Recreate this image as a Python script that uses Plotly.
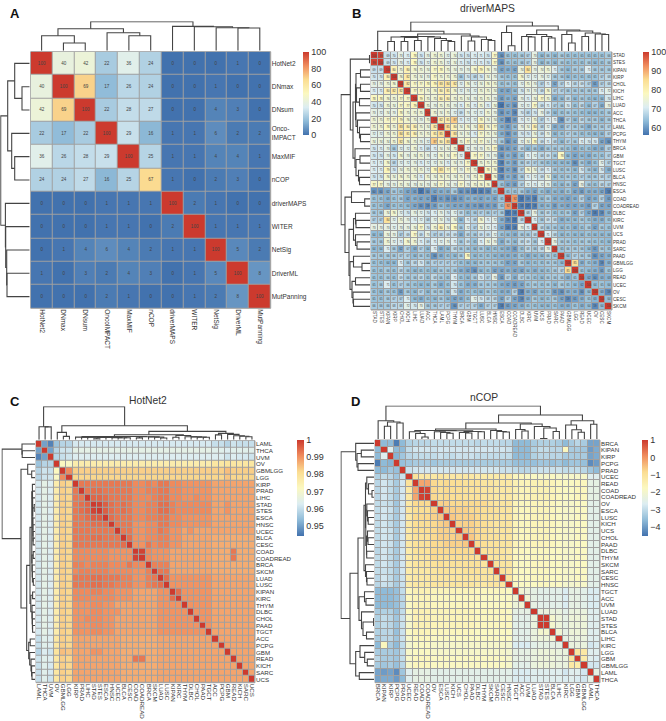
import plotly.graph_objects as go

W, H = 666, 721
FONT = "Liberation Sans"
RDYLBU = ["#4272AE", "#8FBBD8", "#DCEDF2", "#FBF8C0", "#FBDD92", "#F08D5E", "#CC3A2E"]

# ---------- Panel A ----------
A_ROWS = ["HotNet2", "DNmax", "DNsum", "Onco-<br>IMPACT", "MaxMIF", "nCOP", "driverMAPS", "WITER", "NetSig", "DriverML", "MutPanning"]
A_COLS = ["HotNet2", "DNmax", "DNsum", "OncoIMPACT", "MaxMIF", "nCOP", "driverMAPS", "WITER", "NetSig", "DriverML", "MutPanning"]
A_VALUES = [
    [100, 40, 42, 22, 36, 24, 0, 0, 0, 1, 0],
    [40, 100, 69, 17, 26, 24, 0, 0, 1, 0, 0],
    [42, 69, 100, 22, 28, 27, 0, 0, 4, 3, 0],
    [22, 17, 22, 100, 29, 16, 1, 1, 6, 2, 2],
    [36, 26, 28, 29, 100, 25, 1, 1, 4, 4, 1],
    [24, 24, 27, 16, 25, 67, 1, 0, 2, 3, 0],
    [0, 0, 0, 1, 1, 1, 100, 2, 1, 0, 0],
    [0, 0, 0, 1, 1, 0, 2, 100, 1, 1, 1],
    [0, 1, 4, 6, 4, 2, 1, 1, 100, 5, 2],
    [1, 0, 3, 2, 4, 3, 0, 1, 5, 100, 8],
    [0, 0, 0, 2, 1, 0, 0, 1, 2, 8, 100],
]
# trees: (merge height, left, right); an int is a leaf position
A_TREE = (29, (22, (15, 0, (7.7, 1, 2)), (18, 3, (15, 4, 5))),
          (24.3, 6, (24, 7, (23, 8, (22.7, 9, 10)))))

# ---------- Panel B ----------
B_LABELS = ["STAD", "STES", "KIPAN", "KIRP", "CHOL", "KICH", "LIHC", "LUAD", "ACC", "THCA", "LAML", "PCPG",
            "THYM", "BRCA", "GBM", "TGCT", "LUSC", "BLCA", "HNSC", "ESCA", "COAD", "COADREAD", "DLBC", "KIRC",
            "UVM", "UCS", "PRAD", "SARC", "PAAD", "GBMLGG", "LGG", "READ", "UCEC", "OV", "CESC", "SKCM"]
# upper triangle, each row starts just right of its diagonal cell (diagonal = 100)
B_UPPER = [
    [99,69,70,73,71,78,70,73,75,75,72,74,70,70,71,71,70,77,60,65,65,66,67,73,64,66,64,66,65,65,65,65,65,65,66],
    [69,70,73,71,78,70,72,75,75,72,74,71,70,71,71,70,77,60,65,65,66,67,73,64,66,64,66,65,65,65,66,64,65,66],
    [80,75,80,76,75,74,77,78,75,74,73,73,76,79,76,73,62,63,62,74,84,73,74,75,71,66,64,66,66,71,66,66,66],
    [76,82,75,74,73,77,75,75,75,66,70,68,70,74,73,66,65,65,76,72,72,73,72,66,66,64,65,65,65,65,67,68],
    [82,77,77,78,79,83,84,82,72,76,72,74,76,75,65,66,65,72,75,73,67,71,62,67,71,68,69,67,61,67,68],
    [77,77,75,76,80,81,76,72,73,72,75,75,74,62,62,64,70,73,73,69,76,67,67,66,66,66,66,66,71,72],
    [79,75,75,80,80,75,75,74,73,75,75,73,61,63,62,73,71,74,77,75,63,64,68,64,66,65,64,64,70],
    [75,73,75,75,73,71,75,71,75,71,74,57,62,60,72,72,77,69,71,67,66,70,65,68,64,67,63,73],
    [75,74,75,72,69,73,72,72,75,73,60,62,59,70,68,70,73,69,64,65,66,65,65,64,64,65,66],
    [82,81,87,71,72,72,78,74,74,62,58,61,71,72,75,67,71,71,60,67,64,68,66,66,64,66],
    [85,80,74,76,74,83,76,77,63,61,64,73,74,80,68,72,63,63,67,66,66,63,66,66,67],
    [83,74,74,71,77,75,74,63,60,63,70,70,74,69,73,64,65,67,66,65,65,64,64,67],
    [75,77,74,77,74,73,66,60,62,72,74,78,69,71,68,64,67,66,71,70,70,62,60],
    [72,73,73,75,77,60,61,62,68,64,66,63,66,66,66,65,63,65,65,63,63,67],
    [77,77,73,73,60,63,61,65,71,72,68,69,66,78,64,62,64,63,65,65,67],
    [75,75,75,58,63,61,66,68,67,66,65,64,64,64,60,66,63,65,72,67],
    [78,76,58,62,60,67,76,74,69,71,66,65,66,64,70,66,64,70,63],
    [76,59,63,61,66,71,72,69,74,64,65,66,65,67,66,66,68,67],
    [65,62,61,67,72,71,72,73,65,64,66,62,73,66,65,68,67],
    [65,65,66,63,62,65,63,64,63,65,62,61,63,63,62,58],
    [92,57,59,58,64,66,63,63,62,63,67,62,63,67,61],
    [58,57,58,63,64,61,63,62,62,63,61,67,62,62],
    [68,73,66,68,65,65,66,62,67,62,58,59,63],
    [71,66,69,68,63,64,64,66,65,63,63,65],
    [68,66,66,64,65,63,65,66,62,66,65],
    [71,68,64,65,64,64,65,64,64,64],
    [73,66,66,65,66,66,65,65,64],
    [65,66,66,66,64,61,66,65],
    [64,67,66,66,60,62,63],
    [85,63,65,63,59,63],
    [65,64,63,61,65],
    [62,60,63,63],
    [64,65,64],
    [63,59],
    [64],
    [],
]
B_TREE = (29,
          (19.7, (0.5, 0, 1),
           (17,
            (14.5, (14, (9.5, 2, 3), (13.5, (9.5, 4, 5), (10.5, 6, 7))),
             (14, 8, (12.5, 9, (10.5, 10, (9.5, 11, 12))))),
            (15, 13, (14, (10, 14, 15), (11.5, 16, (10.5, 17, 18)))))),
          (25, (18.5, 19, (5.3, 20, 21)),
           (21, (16.5, (14.5, 22, (14, 23, 24)), (14.5, 25, (13, 26, 27))),
            (20, (16.5, 28, (8, 29, 30)), (18, (14.5, 31, 32), (17, 33, (16.5, 34, 35)))))))

# ---------- Panel C ----------
C_LABELS = ["LAML", "THCA", "UVM", "OV", "GBMLGG", "LGG", "KIRP", "PRAD", "LIHC", "STAD", "STES", "ESCA",
            "HNSC", "UCEC", "BLCA", "CESC", "COAD", "COADREAD", "BRCA", "SKCM", "LUAD", "LUSC", "KIPAN", "KIRC",
            "THYM", "DLBC", "CHOL", "PAAD", "TGCT", "ACC", "PCPG", "GBM", "READ", "KICH", "SARC", "UCS"]
# upper triangle, thousandths (diagonal = 1000)
C_UPPER = [
    [950,946,955,958,958,
     962,962,962,962,962,962,962,962,962,962,962,962,962,962,962,962,962,962,962,962,962,962,962,
     960,960,958,961,960,960,960],
    [950,958,961,961,
     965,965,965,965,965,965,965,965,965,965,965,965,965,965,965,965,965,965,965,965,965,965,965,
     964,964,963,964,964,964,964],
    [958,960,961,
     963,963,963,963,963,963,963,963,963,963,963,963,963,963,963,963,963,963,963,963,963,963,963,
     963,963,961,963,962,962,961],
    [972,971,
     976,976,976,976,976,976,976,976,976,976,976,976,976,976,976,976,976,976,976,976,976,976,976,
     978,978,979,978,978,978,978],
    [991,
     983,983,983,983,983,983,983,983,983,983,983,983,983,983,983,983,983,983,983,983,983,983,983,
     983,983,985,983,983,983,983],
    [982,982,982,982,982,982,982,982,982,982,982,982,982,982,982,982,982,982,982,982,982,982,982,
     982,982,984,982,982,982,982],
    [993,993,993,993,993,993,993,993,993,991,991,992,991,993,993,991,991,990,990,990,990,990,988,988,988,988,988,988,988],
    [993,994,994,993,993,993,993,993,991,991,992,992,993,993,991,991,990,990,990,990,990,988,988,988,988,988,988,988],
    [995,995,994,993,993,993,993,991,991,991,992,993,993,991,991,990,990,991,990,990,988,988,988,988,988,988,988],
    [999,996,994,993,994,993,991,991,992,992,994,994,992,991,991,991,991,991,991,988,988,990,988,988,988,988],
    [996,994,993,994,993,991,991,992,992,994,994,992,991,991,991,991,991,991,988,988,990,988,988,988,988],
    [994,993,993,993,991,991,992,992,993,993,991,991,990,990,990,990,990,988,988,988,988,988,988,988],
    [993,993,993,990,990,991,991,993,993,991,991,990,990,990,990,990,988,988,988,988,988,988,988],
    [993,993,990,990,991,991,993,992,990,990,988,990,988,988,988,988,988,988,988,988,988,988],
    [994,990,990,991,991,992,992,990,990,988,988,988,988,988,987,987,987,987,987,987,987],
    [990,990,993,991,992,992,990,990,988,988,988,988,988,987,987,987,987,987,987,987],
    [999,991,990,990,990,988,988,988,988,988,988,988,987,987,987,993,987,987,987],
    [991,990,990,990,988,988,988,988,988,988,988,987,987,987,993,987,987,987],
    [992,992,992,988,988,988,988,988,988,988,987,987,987,987,987,987,987],
    [993,993,988,988,988,988,988,988,988,987,987,987,987,987,987,987],
    [994,990,990,990,990,990,990,990,988,988,988,988,988,988,988],
    [990,990,990,990,990,990,990,988,988,988,988,988,988,988],
    [994,990,990,990,990,990,988,988,988,988,988,988,988],
    [990,990,990,990,990,988,988,988,988,988,988,988],
    [990,990,990,990,988,988,988,988,988,988,988],
    [990,990,990,988,988,988,988,988,988,988],
    [990,990,988,988,988,988,988,988,988],
    [990,988,988,988,988,988,988,988],
    [988,988,988,988,988,988,988],
    [988,988,988,988,988,988],
    [988,988,988,988,988],
    [988,988,988,988],
    [988,988,988],
    [988,988],
    [988],
    [],
]
C_TREE = (33,
          (13, 0, (12.8, 1, 2)),
          (14,
           (7.3, 3, (3.3, 4, 5)),
           (8.3,
            (5,
             (3.2,
              (2.6, 6, (2.5, 7, (2.4, 8, (2.3, (0.8, 9, 10), (2.2, 11, (2.1, 12, (2, 13, (1.9, 14, 15)))))))),
              (3, (1.8, 16, 17), (2.8, 18, (2.6, 19, (1.7, 20, 21))))),
             (4.2, (2.4, 22, 23), (3, 24, (2.8, 25, (2.6, 26, (2.4, 27, 28)))))),
            (6.3, (4.8, 29, 30), (5.3, 31, (4, 32, (3.4, 33, (3, 34, 35))))))))

# ---------- Panel D ----------
D_LABELS = ["BRCA", "KIPAN", "KIRP", "PCPG", "PRAD", "UCEC", "READ", "COAD", "COADREAD", "OV", "ESCA", "LUSC",
            "KICH", "UCS", "CHOL", "PAAD", "DLBC", "THYM", "SKCM", "SARC", "CESC", "HNSC", "TGCT", "ACC",
            "UVM", "LUAD", "STAD", "STES", "BLCA", "LIHC", "KIRC", "LGG", "GBM", "GBMLGG", "LAML", "THCA"]
# upper triangle, tenths (diagonal = 10)
D_UPPER = [
    [-36,-36,-44,-36,-32,-31,-31,-31,-30,-30,-30,-30,-30,-30,-30,-31,-30,-30,-30,-31,-31,-36,-36,-36,-33,-32,-32,-32,-33,-36,-33,-31,-33,-39,-39],
    [-26,-36,-36,-30,-28,-28,-28,-29,-28,-28,-28,-28,-28,-28,-28,-28,-28,-29,-28,-29,-36,-36,-36,-32,-30,-30,-31,-31,-17,-33,-33,-34,-40,-38],
    [-37,-34,-31,-30,-30,-30,-30,-29,-30,-30,-29,-29,-29,-30,-30,-30,-30,-30,-30,-36,-36,-36,-32,-31,-31,-31,-31,-33,-33,-33,-33,-39,-38],
    [-35,-34,-33,-33,-33,-34,-33,-33,-33,-33,-33,-33,-33,-33,-33,-33,-33,-33,-35,-35,-35,-35,-34,-34,-35,-34,-36,-34,-34,-35,-42,-40],
    [-29,-28,-28,-28,-28,-28,-28,-28,-28,-28,-28,-28,-28,-28,-28,-29,-29,-30,-31,-31,-30,-29,-29,-29,-29,-30,-30,-30,-31,-34,-36],
    [-10,-12,-12,-12,-11,-12,-12,-12,-12,-12,-13,-13,-13,-13,-13,-13,-17,-17,-18,-18,-19,-19,-18,-19,-20,-19,-19,-19,-26,-26],
    [-2,-2,-8,-9,-8,-9,-9,-10,-10,-10,-11,-11,-12,-12,-12,-15,-16,-16,-15,-15,-15,-16,-17,-18,-18,-17,-17,-24,-24],
    [9,-8,-9,-8,-9,-9,-10,-10,-10,-11,-11,-12,-12,-12,-15,-16,-16,-15,-15,-15,-16,-17,-18,-18,-17,-17,-24,-24],
    [-8,-9,-8,-9,-9,-10,-10,-10,-11,-11,-12,-12,-12,-15,-16,-16,-15,-15,-15,-16,-17,-18,-18,-17,-17,-24,-24],
    [-7,-7,-8,-8,-8,-8,-8,-8,-10,-11,-11,-11,-16,-17,-17,-16,-16,-16,-17,-18,-19,-19,-18,-18,-25,-25],
    [-6,-7,-7,-7,-8,-8,-9,-9,-10,-11,-11,-16,-17,-17,-16,-16,-16,-17,-18,-19,-19,-18,-18,-25,-25],
    [-6,-7,-7,-7,-8,-9,-10,-10,-11,-11,-16,-17,-17,-16,-16,-16,-17,-18,-19,-19,-18,-18,-25,-25],
    [-7,-7,-7,-8,-9,-10,-11,-11,-11,-16,-17,-17,-16,-16,-16,-17,-18,-19,-19,-18,-18,-25,-25],
    [-6,-7,-8,-9,-10,-11,-11,-11,-16,-17,-17,-16,-16,-16,-17,-18,-19,-19,-18,-18,-25,-25],
    [-6,-8,-9,-10,-10,-11,-11,-16,-17,-17,-16,-16,-16,-17,-18,-19,-19,-18,-18,-25,-25],
    [-8,-9,-10,-10,-11,-11,-16,-17,-17,-16,-16,-16,-17,-18,-19,-19,-18,-18,-25,-25],
    [-10,-10,-10,-11,-12,-17,-17,-18,-17,-17,-17,-18,-18,-19,-19,-18,-18,-25,-25],
    [-11,-11,-11,-12,-17,-18,-18,-17,-17,-17,-18,-18,-19,-19,-18,-18,-25,-25],
    [-10,-11,-11,-17,-18,-18,-17,-17,-17,-18,-18,-19,-19,-18,-18,-25,-25],
    [-10,-11,-17,-18,-18,-17,-17,-17,-18,-18,-19,-19,-18,-18,-25,-25],
    [-11,-17,-18,-18,-17,-17,-17,-18,-18,-19,-19,-18,-18,-25,-25],
    [-18,-18,-18,-18,-17,-17,-18,-18,-20,-20,-19,-19,-25,-25],
    [-21,-22,-24,-25,-25,-25,-25,-27,-24,-24,-25,-27,-27],
    [-21,-24,-25,-25,-25,-25,-27,-24,-24,-25,-27,-27],
    [-24,-25,-25,-25,-25,-27,-24,-24,-25,-27,-27],
    [-23,-23,-23,-23,-25,-23,-23,-23,-26,-26],
    [10,-20,-22,-24,-22,-22,-22,-26,-26],
    [-20,-22,-24,-22,-22,-22,-26,-26],
    [-21,-24,-22,-22,-22,-26,-26],
    [-24,-23,-23,-23,-26,-26],
    [-23,-23,-23,-28,-27],
    [-11,-12,-26,-26],
    [-13,-26,-27],
    [-28,-28],
    [-24],
    [],
]
D_TREE = (33,
          (18.3, 0, (17, (12.7, 1, 2), (16, 3, 4))),
          (24,
           (16,
            (10,
             (8.5, (7.2, 5, (5.5, 6, (2, 7, 8))),
              (8.2, (7.2, 9, (6.5, 10, (5.8, 11, 12))), (7.5, (6.5, 13, (6, 14, 15)), (7.3, 16, 17)))),
             (8.5, 18, (7.5, 19, (7, 20, 21)))),
            (15, (9.5, 22, (8, 23, 24)), (12.5, 25, (11, (0.4, 26, 27), (7.5, 28, 29))))),
           (18.3, (14, 30, (9.3, 31, (6.7, 32, 33))), (14.7, 34, 35))))


def full(upper, diag, scale):
    n = len(upper)
    m = [[diag / scale] * n for _ in range(n)]
    for i, row in enumerate(upper):
        assert len(row) == n - i - 1, (i, len(row))
        for k, v in enumerate(row):
            m[i][i + 1 + k] = m[i + 1 + k][i] = v / scale
    return m


def tree_lines(node):
    xs, ys = [], []

    def walk(nd):
        if isinstance(nd, int):
            return float(nd), 0.0
        h, a, b = nd
        xa, ha = walk(a)
        xb, hb = walk(b)
        xs.extend([xa, xa, xb, xb, None])
        ys.extend([ha, h, h, hb, None])
        return (xa + xb) / 2, h

    walk(node)
    return xs, ys


fig = go.Figure()
layout = {}
shapes = []
axis_no = 0


def dom_x(a, b):
    return [a / W, b / W]


def dom_y(a, b):
    return [1 - b / H, 1 - a / H]


def next_axes():
    global axis_no
    axis_no += 1
    s = "" if axis_no == 1 else str(axis_no)
    return "x" + s, "y" + s, "xaxis" + s, "yaxis" + s


def add_panel(rows, cols, z, tree, box, cbar, zmin, zmax, ticks, ticktext, lab_size, text=None, gap=1):
    x0, x1, y0, y1 = box
    n = len(rows)
    xr, yr, xk, yk = next_axes()
    hm = dict(z=z, x=cols, y=rows, xaxis=xr, yaxis=yr, zmin=zmin, zmax=zmax, colorscale=RDYLBU,
              xgap=gap, ygap=gap, hoverinfo="skip",
              colorbar=dict(x=cbar[0] / W, xanchor="left", xpad=0, y=1 - cbar[1] / H, yanchor="top", ypad=0,
                            lenmode="pixels", len=cbar[2], thicknessmode="pixels", thickness=cbar[3],
                            outlinewidth=0, ticks="", tickmode="array", tickvals=ticks, ticktext=ticktext,
                            tickfont=dict(family=FONT, size=9, color="#333333")))
    if text:
        hm.update(texttemplate="%{z:.0f}", textfont=dict(family=FONT, size=text, color="#444444"))
    fig.add_trace(go.Heatmap(**hm))
    layout[xk] = dict(domain=dom_x(x0, x1), anchor=yr, range=[-0.5, n - 0.5], tickmode="linear", dtick=1,
                      tick0=0, ticks="", tickangle=90, showgrid=False, zeroline=False, showline=False,
                      tickfont=dict(family=FONT, size=lab_size, color="#333333"), automargin=False)
    layout[yk] = dict(domain=dom_y(y0, y1), anchor=xr, range=[n - 0.5, -0.5], tickmode="linear", dtick=1,
                      tick0=0, ticks="", side="right", showgrid=False, zeroline=False, showline=False,
                      tickfont=dict(family=FONT, size=lab_size, color="#333333"), automargin=False)
    shapes.append(dict(type="rect", xref=xr + " domain", yref=yr + " domain", x0=0, x1=1, y0=0, y1=1,
                       layer="below", fillcolor="#a0a0a0", line=dict(color="#a0a0a0", width=1)))
    tx, ty = tree_lines(tree)
    depth = tree[0]
    line = dict(color="#444444", width=1.1)
    pad = 0.5
    # top dendrogram
    xr2, yr2, xk2, yk2 = next_axes()
    fig.add_trace(go.Scatter(x=tx, y=ty, xaxis=xr2, yaxis=yr2, mode="lines", line=line, hoverinfo="skip", showlegend=False))
    layout[xk2] = dict(domain=dom_x(x0, x1), anchor=yr2, range=[-0.5, n - 0.5], visible=False)
    layout[yk2] = dict(domain=dom_y(y0 - 1 - depth - pad, y0 - 1), anchor=xr2, range=[0, depth + pad], visible=False)
    # left dendrogram
    xr3, yr3, xk3, yk3 = next_axes()
    fig.add_trace(go.Scatter(x=ty, y=tx, xaxis=xr3, yaxis=yr3, mode="lines", line=line, hoverinfo="skip", showlegend=False))
    layout[xk3] = dict(domain=dom_x(x0 - 1 - depth - pad, x0 - 1), anchor=yr3, range=[depth + pad, 0], visible=False)
    layout[yk3] = dict(domain=dom_y(y0, y1), anchor=xr3, range=[n - 0.5, -0.5], visible=False)


add_panel(A_ROWS, A_COLS, A_VALUES, A_TREE, (30.7, 270.7, 51.7, 308.3), (303, 52, 83, 6), 0, 100,
          [0, 20, 40, 60, 80, 100], ["0", "20", "40", "60", "80", "100"], 6.5, text=4.6)
add_panel(B_LABELS, B_LABELS, full(B_UPPER, 100, 1), B_TREE, (371, 612, 52, 310), (643, 52, 83, 6), 56.5, 100,
          [60, 70, 80, 90, 100], ["60", "70", "80", "90", "100"], 4.6, text=2.8)
add_panel(C_LABELS, C_LABELS, full(C_UPPER, 1000, 1000), C_TREE,
          (36, 255, 440.7, 682.7), (297, 440, 96, 7), 0.944, 1,
          [0.95, 0.96, 0.97, 0.98, 0.99, 1], ["0.95", "0.96", "0.97", "0.98", "0.99", "1"], 6.2)
add_panel(D_LABELS, D_LABELS, full(D_UPPER, 10, 10), D_TREE, (375, 600, 440, 682.7), (642, 440, 96, 6), -4.52, 1,
          [-4, -3, -2, -1, 0, 1], ["\u22124", "\u22123", "\u22122", "\u22121", "0", "1"], 6.2)

ann = []
for txt, x, y, size, bold in [("A", 15, 14, 13, True), ("B", 356, 14, 13, True), ("C", 15, 401, 13, True), ("D", 355, 401, 13, True),
                              ("driverMAPS", 487, 9, 10.3, False), ("HotNet2", 148, 400, 10.3, False), ("nCOP", 484, 397, 10.3, False)]:
    ann.append(dict(text="<b>%s</b>" % txt if bold else txt, x=x / W, y=1 - y / H, xref="paper", yref="paper",
                    xanchor="center", yanchor="middle", showarrow=False,
                    font=dict(family=FONT, size=size, color="#111111" if bold else "#333333")))

fig.update_layout(width=W, height=H, margin=dict(l=0, r=0, t=0, b=0), paper_bgcolor="white", plot_bgcolor="white",
                  showlegend=False, shapes=shapes, annotations=ann, **layout)
fig.write_html("out.html", config={"displayModeBar": False},
               post_script="document.body.style.margin='0';document.documentElement.style.overflow='hidden';")
